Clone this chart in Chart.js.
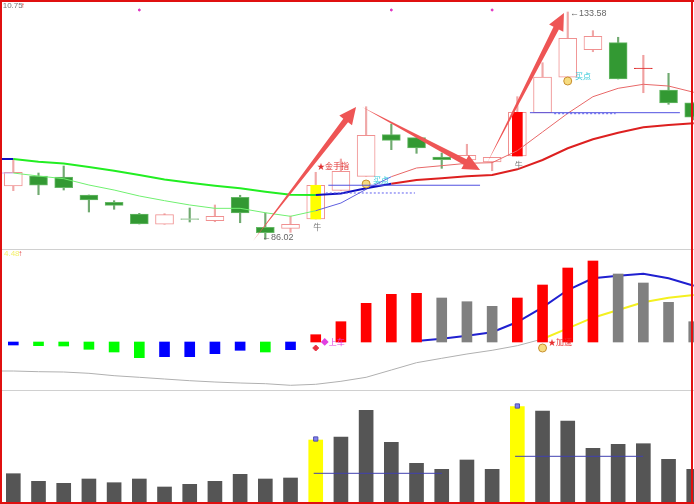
<!DOCTYPE html>
<html>
<head>
<meta charset="utf-8">
<title>K-line</title>
<script src="https://cdn.jsdelivr.net/npm/chart.js@4"></script>
<style>
body { margin: 0; background: #fff; }
#wrap { position: relative; width: 694px; height: 504px; overflow: hidden; background: #fff; }
#wrap canvas { position: absolute; left: 0; }
.frame { position: absolute; }
</style>
</head>
<body>
<div id="wrap">
  <canvas id="price" width="694" height="249" style="top:0"></canvas>
  <canvas id="macd" width="694" height="140" style="top:250px"></canvas>
  <canvas id="vol" width="694" height="111" style="top:391px"></canvas>
  <div class="frame" style="left:0;top:249px;width:694px;height:1px;background:#d0d0d0"></div>
  <div class="frame" style="left:0;top:390px;width:694px;height:1px;background:#d0d0d0"></div>
  <div class="frame" style="left:0;top:0;width:694px;height:2px;background:#e01010"></div>
  <div class="frame" style="left:0;top:0;width:2px;height:504px;background:#e01010"></div>
  <div class="frame" style="left:691px;top:0;width:2px;height:504px;background:#e01010"></div>
  <div class="frame" style="left:0;top:502px;width:694px;height:2px;background:#e01010"></div>
</div>
<script>
// candles, one entry per day
var opens  = [97.17,99.26,99.05,95.29,93.76,91.31,89.16,90.37,89.91,94.81,88.53,88.32,90.27,96.27,99.20,107.91,107.28,103.24,102.61,102.19,103.45,112.51,119.92,125.69,127.16,121.86,117.26,114.60];
var closes = [100.04,97.32,96.82,94.24,93.13,89.22,91.17,90.12,90.83,91.52,87.40,89.16,97.32,100.25,107.78,106.73,105.12,102.67,103.60,103.18,112.59,119.98,128.08,128.49,119.56,121.74,114.54,111.55];
var highs  = [102.82,99.89,101.36,95.29,94.10,91.46,91.38,92.57,93.20,95.23,91.52,90.89,100.04,102.82,113.76,110.14,107.28,104.08,105.90,103.18,115.86,122.97,133.58,129.67,128.29,124.52,120.75,114.60];
var lows   = [96.19,95.35,96.33,91.73,92.30,89.22,89.16,89.64,89.70,89.49,86.02,87.48,90.27,96.27,99.20,104.77,104.01,100.87,102.61,100.37,103.45,112.51,119.92,125.27,119.56,116.69,114.27,110.98];

var maSlow = [102.82,102.26,101.88,101.15,100.37,99.47,98.53,97.86,97.23,96.69,95.98,95.35,95.29,95.60,96.69,97.65,98.43,98.78,99.20,99.47,100.66,102.61,105.06,106.94,108.32,109.45,109.93,110.29];
var maFast = [99.89,99.26,98.70,97.38,96.33,95.08,94.10,93.20,92.50,92.50,91.58,90.83,92.00,93.61,96.48,99.12,100.94,101.42,101.92,102.05,104.56,108.47,112.38,115.86,117.61,118.45,118.09,116.78];

// middle pane
var macdBars = [-0.3,-0.37,-0.4,-0.73,-1.0,-1.57,-1.47,-1.47,-1.17,-0.83,-1.0,-0.77,0.73,2.03,3.87,4.77,4.87,4.4,4.03,3.57,4.4,5.7,7.4,8.1,6.8,5.9,3.97,2.03];
var macdBarColors = ['#0000ff','#00ff00','#00ff00','#00ff00','#00ff00','#00ff00','#0000ff','#0000ff','#0000ff','#0000ff','#00ff00','#0000ff','#ff0000','#ff0000','#ff0000','#ff0000','#ff0000','#808080','#808080','#808080','#ff0000','#ff0000','#ff0000','#ff0000','#808080','#808080','#808080','#808080'];
var deaLine = [-2.9,-2.97,-3.0,-3.13,-3.37,-3.53,-3.7,-3.87,-4.0,-4.1,-4.17,-4.33,-4.23,-3.93,-3.53,-2.8,-2.07,-1.63,-1.2,-0.83,-0.37,0.3,1.37,2.43,3.2,3.97,4.43,4.7];
var difLine = [null,null,null,null,null,null,null,null,null,null,null,null,null,null,null,null,0.1,0.33,0.63,0.97,2.0,3.47,5.2,6.37,6.63,6.83,6.37,5.63];

// volume
var volumes = [2.83,2.07,1.87,2.3,1.93,2.3,1.5,1.77,2.07,2.77,2.3,2.4,6.2,6.5,9.17,5.97,3.87,3.27,4.2,3.27,9.53,9.1,8.1,5.37,5.77,5.83,4.27,3.27];

var days = opens.map(function (v, i) { return i; });
var xMin = -0.528, xMax = 27.01;

function bar(data, thick, color, border, order) {
    return { type: 'bar', data: data, barThickness: thick, backgroundColor: color, borderColor: border || color,
        borderWidth: border ? 1 : 0, borderSkipped: false, grouped: false, order: order };
}
function line(data, colorAt, widthAt, order) {
    return { type: 'line', data: data, pointRadius: 0, tension: 0, spanGaps: false, order: order, borderWidth: 1,
        borderColor: colorAt(0),
        segment: {
            borderColor: function (c) { return colorAt(c.p0DataIndex); },
            borderWidth: function (c) { return widthAt(c.p0DataIndex); }
        } };
}
// a line runs on to the left edge of the window
function withLead(values) {
    var pts = [{ x: xMin, y: values[0] }];
    values.forEach(function (v, i) { pts.push({ x: i, y: v }); });
    return pts;
}
function flat(from, to, value) { return [{ x: from, y: value }, { x: to, y: value }]; }
function dots(list, color, border, style, radius) {
    return { type: 'scatter', data: list, pointStyle: style, pointRadius: radius, backgroundColor: color, borderColor: border, borderWidth: 1, order: 0 };
}
function level(data, color, dash) {
    return { type: 'line', data: data, pointRadius: 0, borderWidth: 1, borderColor: color, borderDash: dash || [], order: 0 };
}

// text and arrows are placed in data units, through the scales
var labels = {
    price: [
        ['10.75', -0.42, 134.9, '#777', 8], ['↑', 0.3, 134.9, '#e04040', 8],
        ['←86.02', 9.87, 86.3, '#666', 9], ['←133.58', 22.09, 133.16, '#666', 9],
        ['牛', 11.9, 88.38, '#777', 8], ['牛', 19.9, 101.36, '#777', 8],
        ['★金手指', 12.05, 101.15, '#e03030', 8],
        ['买点', 14.27, 98.22, '#30c8d8', 8], ['买点', 22.29, 119.98, '#30c8d8', 8]
    ],
    macd: [
        ['4.48', -0.37, 8.8, '#f4f070', 8], ['↑', 0.2, 8.8, '#e04040', 8],
        ['◆上车', 12.2, -0.1, '#e040e0', 8], ['★加速', 21.22, -0.1, '#e83030', 8]
    ],
    vol: []
};
var arrows = [
    [9.51, 85.66, 13.6, 113.7],
    [13.84, 113.7, 18.52, 100.52],
    [18.8, 101.98, 21.85, 133.37]
];

var annotate = {
    id: 'annotate',
    afterDatasetsDraw: function (chart) {
        var ctx = chart.ctx, sx = chart.scales.x, sy = chart.scales.y;
        ctx.save();
        if (chart.canvas.id === 'price') {
            ctx.fillStyle = '#ee5555';
            arrows.forEach(function (a) {
                var x0 = sx.getPixelForValue(a[0]), y0 = sy.getPixelForValue(a[1]);
                var x1 = sx.getPixelForValue(a[2]), y1 = sy.getPixelForValue(a[3]);
                var len = Math.hypot(x1 - x0, y1 - y0), ux = (x1 - x0) / len, uy = (y1 - y0) / len;
                var bx = x1 - ux * 17, by = y1 - uy * 17;
                ctx.beginPath();
                ctx.moveTo(x0, y0);
                ctx.lineTo(bx - uy * 3, by + ux * 3);
                ctx.lineTo(bx - uy * 8, by + ux * 8);
                ctx.lineTo(x1, y1);
                ctx.lineTo(bx + uy * 8, by - ux * 8);
                ctx.lineTo(bx + uy * 3, by - ux * 3);
                ctx.closePath();
                ctx.fill();
            });
        }
        ctx.textBaseline = 'middle';
        labels[chart.canvas.id].forEach(function (t) {
            ctx.font = t[4] + 'px "Liberation Sans","Noto Sans CJK SC",sans-serif';
            ctx.fillStyle = t[3];
            ctx.fillText(t[0], sx.getPixelForValue(t[1]), sy.getPixelForValue(t[2]));
        });
        ctx.restore();
    }
};

function makeChart(id, yMin, yMax, datasets) {
    return new Chart(document.getElementById(id), {
        data: { labels: days, datasets: datasets },
        plugins: [annotate],
        options: {
            responsive: false,
            animation: false,
            layout: { padding: 0, autoPadding: false },
            plugins: { legend: { display: false }, tooltip: { enabled: false } },
            scales: {
                x: { type: 'linear', display: false, min: xMin, max: xMax, offset: false },
                y: { display: false, min: yMin, max: yMax }
            }
        }
    });
}

var bodyFill = days.map(function (i) {
    if (i === 25) return '#e03030';
    if (i === 7) return '#a8cfa8';
    return closes[i] >= opens[i] ? '#ffffff' : '#339933';
});
var bodyBorder = days.map(function (i) {
    if (i === 25) return '#e03030';
    if (i === 7) return '#a8cfa8';
    return closes[i] >= opens[i] ? '#f09090' : '#66b866';
});
var wickColor = days.map(function (i) {
    if (i === 25) return '#f0a0a0';
    return closes[i] >= opens[i] ? '#f0a8a8' : '#70aa70';
});
var innerFill = days.map(function (i) { return i === 12 ? '#ffff00' : '#ff0000'; });

function pairs(a, b) { return days.map(function (i) { return { x: i, y: [a[i], b[i]] }; }); }
function points(a) { return days.map(function (i) { return { x: i, y: a[i] }; }); }

// slow average: green while falling, blue around the turn, red afterwards
function slowColor(k) { var i = k - 1; return i < 0 ? '#1010c0' : i < 12 ? '#22ee22' : i < 15 ? '#1010c0' : '#dd2020'; }
function fastColor(k) { var i = k - 1; return i < 0 ? '#c8b0f0' : i < 12 ? '#70f070' : i < 15 ? '#6060e0' : '#e86868'; }
function deaColor(k) { return k - 1 < 21 ? '#b0b0b0' : '#f4f020'; }
function difColor() { return '#2020d0'; }

makeChart('price', 83.99, 136.09, [
    bar(pairs(lows, highs), 1.5, wickColor, null, 4),
    bar(pairs(opens, closes), 18, bodyFill, bodyBorder, 3),
    bar([{ x: 12, y: [opens[12], closes[12]] }, { x: 20, y: [opens[20], closes[20]] }], 10,
        [innerFill[12], innerFill[20]], null, 2),
    line(withLead(maSlow), slowColor, function () { return 2; }, 1),
    line(withLead(maFast), fastColor, function () { return 1; }, 1),
    level(flat(12.5, 18.52, 97.33), '#5050e0'),
    level(flat(12.4, 15.94, 95.71), '#6060f0', [2, 2]),
    level(flat(20.5, 26.45, 112.51), '#5050e0'),
    level(flat(21.46, 23.9, 112.3), '#6060f0', [2, 2]),
    dots([{ x: 5, y: 134 }, { x: 15, y: 134 }, { x: 19, y: 134 }], '#e030c0', '#e030c0', 'circle', 1),
    dots([{ x: 14, y: 97.59 }, { x: 22, y: 119.14 }], '#f6dc80', '#c89030', 'circle', 4)
]);

makeChart('macd', -4.8, 9.2, [
    bar(points(macdBars), 10, macdBarColors, null, 1),
    line(withLead(deaLine), deaColor, function (k) { return k - 1 < 21 ? 1 : 2; }, 2),
    line(points(difLine), difColor, function () { return 2; }, 2),
    dots([{ x: 12, y: -0.6 }], '#e83040', '#e83040', 'rectRot', 3),
    dots([{ x: 21, y: -0.6 }], '#f6dc80', '#c89030', 'circle', 4)
]);

var volColors = days.map(function (i) { return i === 12 || i === 20 ? '#ffff00' : '#555555'; });
makeChart('vol', 0, 11.1, [
    bar(points(volumes), 14, volColors, null, 1),
    level(flat(11.92, 17.01, 2.87), '#4040b0'),
    level(flat(19.91, 24.99, 4.57), '#4040b0'),
    dots([{ x: 12, y: 6.3 }, { x: 20, y: 9.6 }], '#8080f0', '#5050b0', 'rect', 3)
]);
</script>
</body>
</html>
